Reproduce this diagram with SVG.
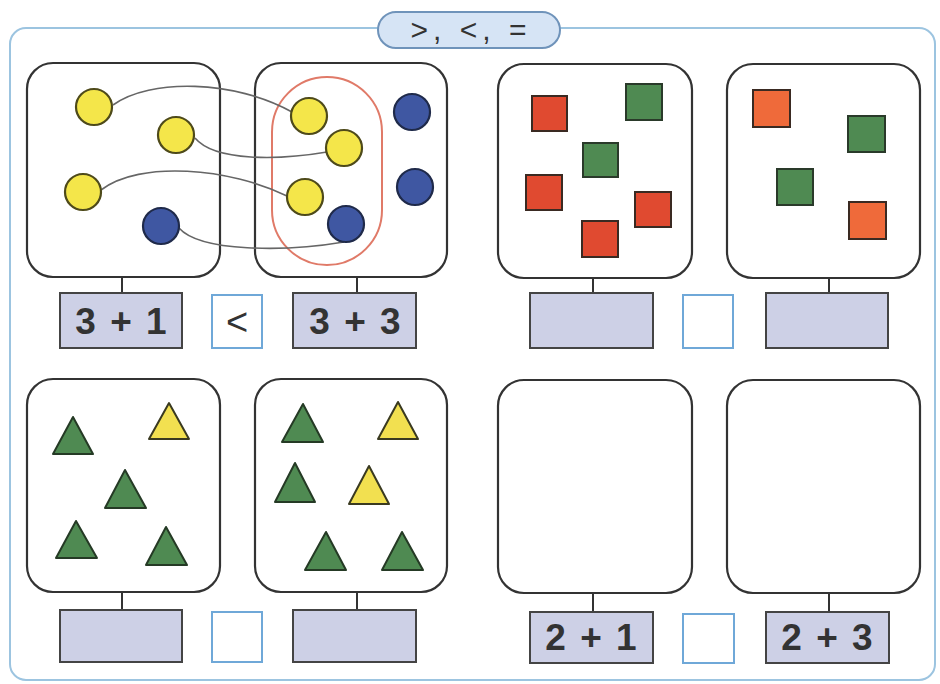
<svg xmlns="http://www.w3.org/2000/svg" width="940" height="684" viewBox="0 0 940 684">
<style>
.frame{fill:#fff;stroke:#9cc4e0;stroke-width:2}
.pill{fill:#d6e4f5;stroke:#6f93ba;stroke-width:2}
.box{fill:#fff;stroke:#333;stroke-width:2.2}
.lbl{fill:#cdd0e6;stroke:#444;stroke-width:2}
.sm{fill:#fff;stroke:#6fa8d8;stroke-width:2}
.stem{stroke:#333;stroke-width:2;fill:none}
.link{stroke:#666;stroke-width:1.6;fill:none}
.yc{fill:#f4e64a;stroke:#4e4a1a;stroke-width:2.2}
.bc{fill:#3f57a2;stroke:#1f2a4a;stroke-width:2.2}
.rs{fill:#e04a30;stroke:#3a2a22;stroke-width:2}
.os{fill:#ef6a3a;stroke:#3a2a22;stroke-width:2}
.gs{fill:#4f8a52;stroke:#2a3a2a;stroke-width:2}
.gt{fill:#4f8a52;stroke:#253a25;stroke-width:2;stroke-linejoin:round}
.yt{fill:#f2e050;stroke:#3a3a20;stroke-width:2;stroke-linejoin:round}
.num{font-family:"Liberation Sans",Arial,sans-serif;font-weight:bold;font-size:37px;fill:#333;text-anchor:middle;letter-spacing:2px}
.sign{font-family:"Liberation Sans",Arial,sans-serif;font-size:38px;fill:#333;text-anchor:middle}
.title{font-family:"Liberation Sans",Arial,sans-serif;font-size:30px;fill:#333;text-anchor:middle;letter-spacing:5px}
</style>
<rect class="frame" x="10" y="28" width="925" height="652" rx="16"/>
<g id="title">
<rect class="pill" x="378" y="12" width="182" height="36" rx="18"/>
<text class="title" x="471" y="40">&gt;, &lt;, =</text>
</g>
<g id="connectors">
<path class="stem" d="M122,277V293M357,277V293M593,278V293M829,278V293"/>
<path class="stem" d="M122,592V610M357,592V610M593,593V612M829,593V612"/>
</g>
<g id="box1">
<rect class="box" x="27" y="63" width="193" height="214" rx="26"/>
</g>
<g id="box2">
<rect class="box" x="255" y="63" width="192" height="214" rx="26"/>
<rect x="272" y="77" width="110" height="188" rx="55" fill="none" stroke="#e07a68" stroke-width="2"/>
</g>
<g id="links">
<path class="link" d="M113,105 C150,78 235,80 292,112"/>
<path class="link" d="M195,138 C215,162 280,160 327,152"/>
<path class="link" d="M101,190 C140,160 230,168 287,196"/>
<path class="link" d="M179,228 C200,252 285,252 344,242"/>
</g>
<g id="circles">
<circle class="yc" cx="94" cy="107" r="18"/>
<circle class="yc" cx="176" cy="135" r="18"/>
<circle class="yc" cx="83" cy="192" r="18"/>
<circle class="bc" cx="161" cy="226" r="18"/>
<circle class="yc" cx="309" cy="116" r="18"/>
<circle class="yc" cx="344" cy="148" r="18"/>
<circle class="yc" cx="305" cy="197" r="18"/>
<circle class="bc" cx="346" cy="224" r="18"/>
<circle class="bc" cx="412" cy="112" r="18"/>
<circle class="bc" cx="415" cy="187" r="18"/>
</g>
<g id="box3">
<rect class="box" x="498" y="64" width="194" height="214" rx="26"/>
<rect class="rs" x="532" y="96" width="35" height="35"/>
<rect class="gs" x="626" y="84" width="36" height="36"/>
<rect class="gs" x="583" y="143" width="35" height="34"/>
<rect class="rs" x="526" y="175" width="36" height="35"/>
<rect class="rs" x="635" y="192" width="36" height="35"/>
<rect class="rs" x="582" y="221" width="36" height="36"/>
</g>
<g id="box4">
<rect class="box" x="727" y="64" width="193" height="214" rx="26"/>
<rect class="os" x="753" y="90" width="37" height="37"/>
<rect class="gs" x="848" y="116" width="37" height="36"/>
<rect class="gs" x="777" y="169" width="36" height="36"/>
<rect class="os" x="849" y="202" width="37" height="37"/>
</g>
<g id="row1-labels">
<rect class="lbl" x="60" y="293" width="122" height="55"/>
<text class="num" x="122" y="334">3 + 1</text>
<rect class="sm" x="212" y="295" width="50" height="53"/>
<text class="sign" x="237" y="335">&lt;</text>
<rect class="lbl" x="293" y="293" width="123" height="55"/>
<text class="num" x="356" y="334">3 + 3</text>
<rect class="lbl" x="530" y="293" width="123" height="55"/>
<rect class="sm" x="683" y="295" width="50" height="53"/>
<rect class="lbl" x="766" y="293" width="122" height="55"/>
</g>
<g id="box5">
<rect class="box" x="27" y="379" width="193" height="213" rx="26"/>
<polygon class="gt" points="73,417 93,454 53,454"/>
<polygon class="yt" points="169,403 189,439 149,439"/>
<polygon class="gt" points="125,470 146,508 105,508"/>
<polygon class="gt" points="76,521 97,558 56,558"/>
<polygon class="gt" points="166,527 187,565 146,565"/>
</g>
<g id="box6">
<rect class="box" x="255" y="379" width="192" height="213" rx="26"/>
<polygon class="gt" points="303,404 323,442 282,442"/>
<polygon class="yt" points="398,402 418,439 378,439"/>
<polygon class="gt" points="295,463 315,502 275,502"/>
<polygon class="yt" points="369,466 389,504 349,504"/>
<polygon class="gt" points="326,532 346,570 305,570"/>
<polygon class="gt" points="402,532 423,570 382,570"/>
</g>
<g id="box7">
<rect class="box" x="498" y="380" width="194" height="213" rx="26"/>
</g>
<g id="box8">
<rect class="box" x="727" y="380" width="193" height="213" rx="26"/>
</g>
<g id="row2-labels">
<rect class="lbl" x="60" y="610" width="122" height="52"/>
<rect class="sm" x="212" y="612" width="50" height="50"/>
<rect class="lbl" x="293" y="610" width="123" height="52"/>
<rect class="lbl" x="530" y="612" width="123" height="51"/>
<text class="num" x="592" y="650">2 + 1</text>
<rect class="sm" x="683" y="614" width="51" height="49"/>
<rect class="lbl" x="766" y="612" width="123" height="51"/>
<text class="num" x="828" y="650">2 + 3</text>
</g>
</svg>
